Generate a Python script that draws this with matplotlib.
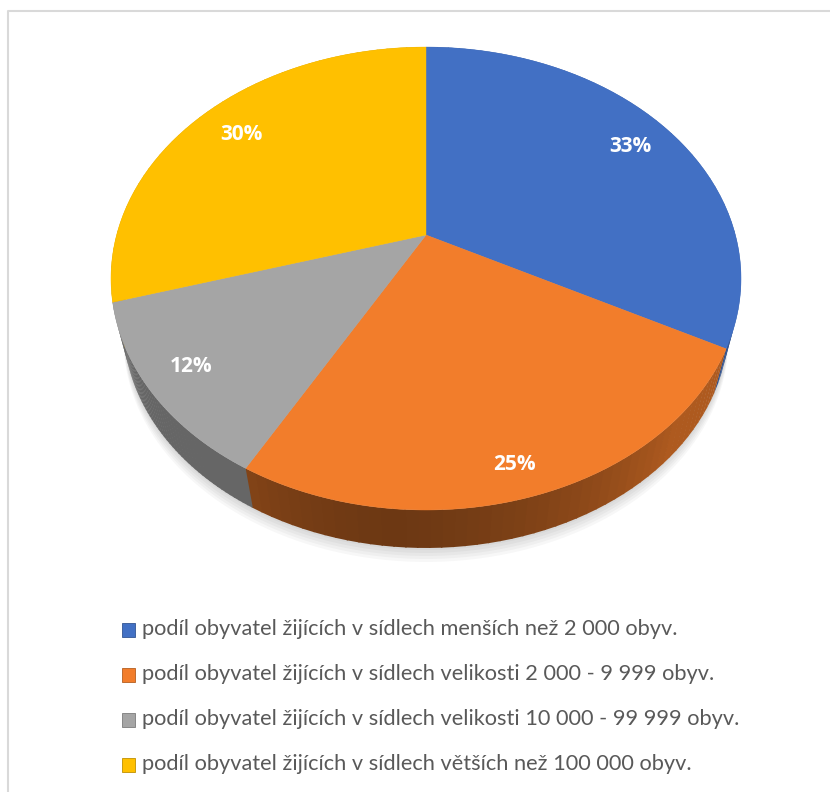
import numpy as np
import matplotlib
matplotlib.use('Agg')
import matplotlib.pyplot as plt
from matplotlib.patches import Rectangle

# Data
labels = ['podíl obyvatel žijících v sídlech menších než 2 000 obyv.',
          'podíl obyvatel žijících v sídlech velikosti 2 000 - 9 999 obyv.',
          'podíl obyvatel žijících v sídlech velikosti 10 000 - 99 999 obyv.',
          'podíl obyvatel žijících v sídlech větších než 100 000 obyv.']
values = [32.7, 25.4, 12.3, 29.6]
colors = ['#4270C4', '#F27D2B', '#A5A5A5', '#FFC000']
# pixel position of the value labels
label_x = [630, 514, 191, 241]
label_y = [147, 464, 366, 135]
legend_y = [630, 675, 720, 765]

# pie geometry in pixels, the disc is tilted so circle is mapped with perspective
cx, cy = 426, 235
persp = 0.188
ax_w = 309.4
ax_h = 223.3
depth = 49
shrink = 0.96


def project(ang, base=False):
    x = np.sin(ang)
    y = np.cos(ang)
    d = 1 + persp * y
    px = ax_w * x / d
    py = ax_h * y / d
    if base:
        return cx + px * shrink, cy - py * shrink + depth
    return cx + px, cy - py


def shade(col, f):
    return tuple(c * f for c in matplotlib.colors.to_rgb(col))


fig = plt.figure(figsize=(8.3, 7.92), dpi=100)
ax = fig.add_axes([0, 0, 1, 1])
ax.set_xlim(0, 830)
ax.set_ylim(792, 0)
ax.axis('off')

# chart frame
ax.plot([8, 8, 830], [792, 11, 11], color='#d9d9d9', lw=1.5)

edges = np.cumsum([0] + values) / sum(values) * 2 * np.pi

# soft shadow under the disc
t = np.linspace(0, 2 * np.pi, 200)
for off in [14, 11, 8, 5, 2]:
    bx, by = project(t, base=True)
    ax.fill(bx, by + off, color='#000000', alpha=0.03, lw=0, zorder=1)

# side wall, split in thin strips for the shading
for i in range(len(values)):
    steps = np.linspace(edges[i], edges[i + 1], 50)
    for a0, a1 in zip(steps[:-1], steps[1:]):
        tt = np.array([a0, a1 + 0.004])
        x1, y1 = project(tt)
        x2, y2 = project(tt[::-1], base=True)
        m = (a0 + a1) / 2
        if i == 2:
            f = 0.62
        else:
            f = 0.45 + 0.33 * abs(m - np.pi * 1.03) ** 1.5
        ax.fill(np.r_[x1, x2], np.r_[y1, y2], color=shade(colors[i], min(f, 0.72)), lw=0, zorder=2)

# top of the pie
for i in range(len(values)):
    tt = np.linspace(edges[i], edges[i + 1], 200)
    x1, y1 = project(tt)
    ax.fill(np.r_[cx, x1], np.r_[cy, y1], color=colors[i], lw=0.3, ec=colors[i], zorder=3)

for i in range(len(values)):
    ax.text(label_x[i], label_y[i], f'{values[i]:.0f}%', color='white', family='Open Sans',
            weight='bold', fontsize=15, ha='center', va='center', zorder=4)

# legend
for i in range(len(labels)):
    ax.add_patch(Rectangle((122, legend_y[i] - 7), 13, 14, fc=colors[i],
                           ec=shade(colors[i], 0.75), lw=0.6))
    ax.text(142, legend_y[i] - 1, labels[i], color='#595959', family='Lato',
            fontsize=15.65, ha='left', va='center')

plt.savefig('out.png', dpi=100)
